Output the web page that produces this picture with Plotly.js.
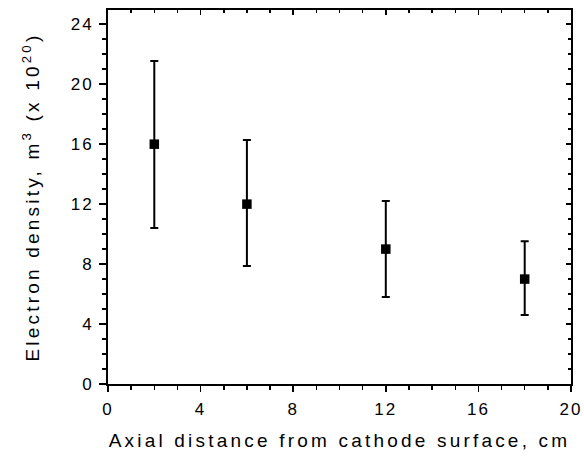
<!DOCTYPE html>
<html>
<head>
<meta charset="utf-8">
<script src="https://cdn.plot.ly/plotly-3.0.1.min.js"></script>
<style>
  html, body { margin: 0; padding: 0; background: #fff; }
  #plot1 .xtick text, #plot1 .ytick text { letter-spacing: 2px; }
  #plot1 .g-xtitle text { letter-spacing: 3.2px; }
  #plot1 .g-ytitle text { letter-spacing: 3.2px; }
</style>
</head>
<body>
<div id="plot1"></div>
<script>
// Axial distance (cm) and electron density (x 1e20 m^-3)
var distance = [2, 6, 12, 18];
var density = [16, 12, 9, 7];
var errUp = [5.55, 4.27, 3.2, 2.53];
var errDown = [5.6, 4.13, 3.2, 2.4];

var xTicks = [0, 4, 8, 12, 16, 20];
var yTicks = [0, 4, 8, 12, 16, 20, 24];

function drawPlot() {

	var points = {
		x: distance,
		y: density,
		mode: 'markers',
		type: 'scatter',
		marker: {
			symbol: 'square',
			size: 9.5,
			color: '#000000'
		},
		error_y: {
			type: 'data',
			symmetric: false,
			array: errUp,
			arrayminus: errDown,
			color: '#000000',
			thickness: 2,
			width: 4
		},
		showlegend: false
	};

	// dummy traces so the top / right axes (inward ticks) get drawn
	var mirror = {
		x: distance,
		y: density,
		xaxis: 'x2',
		yaxis: 'y2',
		mode: 'markers',
		marker: {opacity: 0},
		hoverinfo: 'skip',
		showlegend: false
	};

	var font = {family: 'Liberation Sans, Arial, sans-serif', size: 17, color: '#000000'};

	var layout = {
		autosize: false,
		width: 584,
		height: 462,
		hovermode: false,
		paper_bgcolor: '#ffffff',
		plot_bgcolor: '#ffffff',
		margin: {l: 108, r: 13, t: 10, b: 78},
		font: font,
		xaxis: {
			range: [0, 20],
			tickvals: xTicks,
			ticks: 'outside',
			ticklen: 6,
			tickwidth: 1.5,
			tickcolor: '#000000',
			minor: {dtick: 1, ticks: 'outside', ticklen: 4, tickwidth: 1.5, tickcolor: '#000000', showgrid: false},
			showgrid: false,
			zeroline: false,
			showline: true,
			linecolor: '#000000',
			linewidth: 2,
			ticklabelstandoff: 3,
			title: {
				text: 'Axial distance from cathode surface, cm',
				font: {family: 'Liberation Sans, Arial, sans-serif', size: 19, color: '#000000'},
				standoff: 15
			}
		},
		yaxis: {
			range: [0, 24.95],
			tickvals: yTicks,
			ticks: 'outside',
			ticklen: 7,
			tickwidth: 1.5,
			tickcolor: '#000000',
			minor: {dtick: 1, ticks: 'outside', ticklen: 4, tickwidth: 1.5, tickcolor: '#000000', showgrid: false},
			showgrid: false,
			zeroline: false,
			showline: true,
			linecolor: '#000000',
			linewidth: 2,
			ticklabelstandoff: 2,
			title: {
				text: 'Electron density, m<sup>3</sup> (x 10<sup>20</sup>)',
				font: {family: 'Liberation Sans, Arial, sans-serif', size: 19, color: '#000000'},
				standoff: 30
			}
		},
		xaxis2: {
			overlaying: 'x',
			side: 'top',
			matches: 'x',
			tickvals: xTicks,
			ticks: 'inside',
			ticklen: 5,
			tickwidth: 1.5,
			tickcolor: '#000000',
			minor: {dtick: 1, ticks: 'inside', ticklen: 3, tickwidth: 1.5, tickcolor: '#000000', showgrid: false},
			showticklabels: false,
			showgrid: false,
			zeroline: false,
			showline: true,
			linecolor: '#000000',
			linewidth: 2
		},
		yaxis2: {
			overlaying: 'y',
			side: 'right',
			matches: 'y',
			tickvals: yTicks,
			ticks: 'inside',
			ticklen: 5,
			tickwidth: 1.5,
			tickcolor: '#000000',
			minor: {dtick: 1, ticks: 'inside', ticklen: 3, tickwidth: 1.5, tickcolor: '#000000', showgrid: false},
			showticklabels: false,
			showgrid: false,
			zeroline: false,
			showline: true,
			linecolor: '#000000',
			linewidth: 2
		}
	};

	Plotly.newPlot('plot1', [points, mirror], layout, {staticPlot: true, displayModeBar: false});
}

drawPlot();
</script>
</body>
</html>
